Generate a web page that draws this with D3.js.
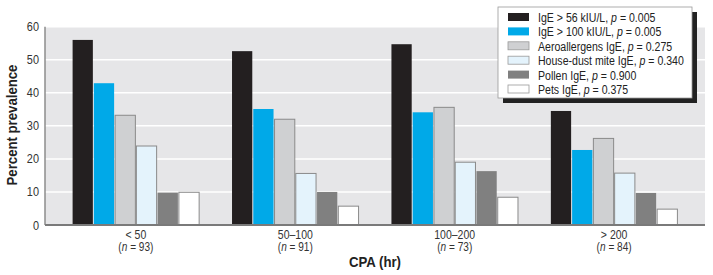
<!DOCTYPE html>
<html>
<head>
<meta charset="utf-8">
<script src="https://cdn.jsdelivr.net/npm/d3@7"></script>
<style>
  body { margin: 0; background: #fff; }
  text { font-family: "Liberation Sans", Arial, sans-serif; }
</style>
</head>
<body>
<svg id="chart" width="713" height="275"></svg>
<script>
var groups = ["< 50", "50\u2013100", "100\u2013200", "> 200"]
var groupN = ["93", "91", "73", "84"]
var seriesNames = ["IgE > 56 kIU/L", "IgE > 100 kIU/L", "Aeroallergens IgE", "House-dust mite IgE", "Pollen IgE", "Pets IgE"]
var seriesP = ["0.005", "0.005", "0.275", "0.340", "0.900", "0.375"]
var seriesColors = ["#231f20", "#00a9e8", "#cfd0d2", "#e4f3fc", "#808080", "#ffffff"]
var seriesStroke = ["none", "none", "#8a8a8a", "#8a8a8a", "none", "#8a8a8a"]

var ige56 = [56.0, 52.6, 54.7, 34.5]
var ige100 = [42.9, 35.1, 34.1, 22.7]
var aero = [33.2, 32.0, 35.6, 26.2]
var mite = [23.9, 15.6, 19.0, 15.7]
var pollen = [9.8, 10.0, 16.3, 9.7]
var pets = [9.9, 5.7, 8.4, 4.8]
var yTicks = [0, 10, 20, 30, 40, 50, 60]

var series = [ige56, ige100, aero, mite, pollen, pets]

var dims = {
    width: 713,
    height: 275,
    margin: { top: 26.7, bottom: 50, left: 45, right: 8 },
    squeeze: 0.84,
    legendTextWidth: 146
}

var svg = d3.select("#chart")

// condensed-looking text: narrow the glyphs horizontally
function condText(parent, x, y, size, anchor, sq){
    return parent.append("g")
            .attr("transform", `translate(${x},${y}) scale(${sq || dims.squeeze},1)`)
            .append("text")
            .attr("text-anchor", anchor)
            .attr("font-size", size)
            .attr("fill", "#333")
}

var x0 = d3.scaleBand()
        .domain(groups)
        .range([dims.margin.left, dims.width - dims.margin.right])
        .paddingInner(0.2)
        .paddingOuter(0.17)

var x1 = d3.scaleBand()
        .domain(d3.range(seriesNames.length))
        .range([0, x0.bandwidth()])

var y = d3.scaleLinear()
        .domain([0, 60])
        .range([dims.height - dims.margin.bottom, dims.margin.top])

// background
svg.append("rect")
        .attr("x", dims.margin.left)
        .attr("y", dims.margin.top)
        .attr("width", dims.width - dims.margin.right - dims.margin.left)
        .attr("height", y(0) - dims.margin.top)
        .attr("fill", "#e6e6e8")

// gridlines
svg.append("g")
        .selectAll("line")
        .data(yTicks.slice(1))
        .enter()
        .append("line")
        .attr("x1", dims.margin.left)
        .attr("x2", dims.width - dims.margin.right)
        .attr("y1", d => y(d))
        .attr("y2", d => y(d))
        .attr("stroke", "#ffffff")
        .attr("stroke-width", 1.5)

// bars
var rows = []
groups.forEach(function(g, gi){
    series.forEach(function(s, si){
        rows.push({group: g, si: si, value: s[gi]})
    })
})

svg.append("g")
        .selectAll("rect")
        .data(rows)
        .enter()
        .append("rect")
        .attr("x", d => x0(d.group) + x1(d.si) + 0.5)
        .attr("width", x1.bandwidth() - 1)
        .attr("y", d => y(d.value))
        .attr("height", d => y(0) - y(d.value))
        .attr("fill", d => seriesColors[d.si])
        .attr("stroke", d => seriesStroke[d.si])
        .attr("stroke-width", 1)

// y axis
svg.append("line")
        .attr("x1", dims.margin.left)
        .attr("x2", dims.margin.left)
        .attr("y1", y(60))
        .attr("y2", y(0))
        .attr("stroke", "#8c8c8c")
        .attr("stroke-width", 1.5)

var yLab = svg.append("g")
yTicks.forEach(function(t){
    condText(yLab, dims.margin.left - 6, y(t) + 4.5, 13, "end").text(t)
})

// x axis line
svg.append("line")
        .attr("x1", dims.margin.left)
        .attr("x2", dims.width - dims.margin.right)
        .attr("y1", y(0))
        .attr("y2", y(0))
        .attr("stroke", "#7a7a7a")
        .attr("stroke-width", 2)

// category labels
var cat = svg.append("g")
groups.forEach(function(g, i){
    var cx = x0(g) + x0.bandwidth() / 2
    condText(cat, cx, y(0) + 14, 12.5, "middle").text(g)
    var t = condText(cat, cx, y(0) + 26, 12, "middle")
    t.append("tspan").text("(")
    t.append("tspan").attr("font-style", "italic").text("n")
    t.append("tspan").text(" = " + groupN[i] + ")")
})

// titles
svg.append("g")
        .attr("transform", "translate(375,267) scale(0.88,1)")
        .append("text")
        .attr("text-anchor", "middle")
        .attr("font-size", 15)
        .attr("font-weight", "bold")
        .attr("fill", "#222")
        .text("CPA (hr)")

svg.append("g")
        .attr("transform", "translate(17,125) rotate(-90) scale(0.88,1)")
        .append("text")
        .attr("text-anchor", "middle")
        .attr("font-size", 15)
        .attr("font-weight", "bold")
        .attr("fill", "#222")
        .text("Percent prevalence")

// legend
var lg = svg.append("g").attr("transform", "translate(498,7)")
lg.append("rect")
        .attr("x", 5).attr("y", 5)
        .attr("width", 194).attr("height", 91)
        .attr("fill", "#222")
lg.append("rect")
        .attr("x", 0).attr("y", 0)
        .attr("width", 194).attr("height", 91)
        .attr("fill", "#fff")
        .attr("stroke", "#999")
        .attr("stroke-width", 0.8)

var legendTexts = []
seriesNames.forEach(function(name, i){
    var rowY = 5 + i * 14.4
    lg.append("rect")
            .attr("x", 10).attr("y", rowY + 1)
            .attr("width", 21).attr("height", 8)
            .attr("fill", seriesColors[i])
            .attr("stroke", seriesStroke[i] === "none" ? "none" : "#999")
            .attr("stroke-width", 0.8)
    var t = condText(lg, 40, rowY + 10, 13.5, "start", 1).attr("fill", "#222")
    t.append("tspan").text(name + ", ")
    t.append("tspan").attr("font-style", "italic").text("p")
    t.append("tspan").text(" = " + seriesP[i])
    legendTexts.push(t)
})

// fit the longest legend line to the reference width
var maxW = d3.max(legendTexts, t => t.node().getComputedTextLength())
var legendSq = dims.legendTextWidth / maxW
legendTexts.forEach(function(t, i){
    d3.select(t.node().parentNode)
            .attr("transform", `translate(40,${5 + i * 14.4 + 10}) scale(${legendSq},1)`)
})
</script>
</body>
</html>
